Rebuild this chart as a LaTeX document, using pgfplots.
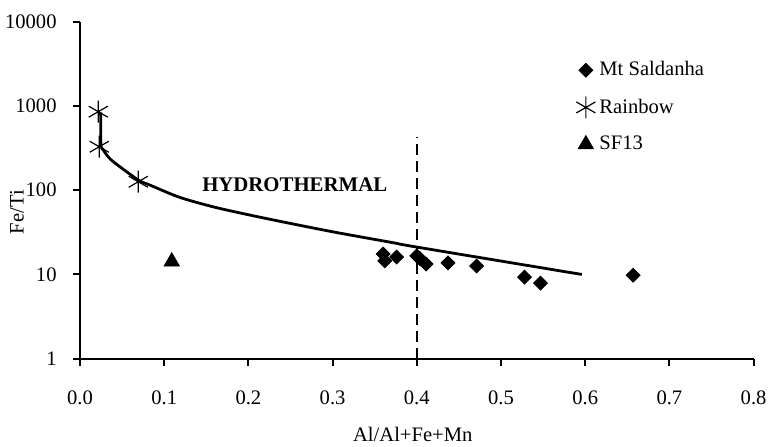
\documentclass[border=0pt]{standalone}
\usepackage{fontspec}
\setmainfont{Liberation Serif}
\usepackage{pgfplots}
\pgfplotsset{compat=1.18}
\newcommand{\ff}{\fontsize{10.3}{12}\selectfont}
\begin{document}
\begin{tikzpicture}
\useasboundingbox (-40pt,-43.65pt) rectangle (344.5pt,179.35pt);
\begin{axis}[
  at={(0,0)}, anchor=south west,
  scale only axis, width=336.8pt, height=168.5pt,
  ymode=log, xmin=0, xmax=0.8, ymin=1, ymax=10000,
  axis lines*=left,
  axis line style={line width=1pt,-},
  xtick={0,0.1,...,0.8}, ytick={1,10,100,1000,10000},
  yticklabels={1,10,100,1000,10000},
  minor ytick={}, yminorticks=false,
  tick align=outside, major tick length=3.5pt,
  every tick/.style={black, line width=1pt},
  x tick label style={font=\ff, /pgf/number format/fixed, /pgf/number format/fixed zerofill, /pgf/number format/precision=1, anchor=base, yshift=-19.5pt},
  y tick label style={font=\ff, anchor=east, inner sep=0pt, xshift=-8pt},
  /pgf/number format/assume math mode=true,
  font=\ff,
  xlabel={Al/Al+Fe+Mn}, ylabel={Fe/Ti},
  every axis x label/.style={at={(axis description cs:0.494,0)}, yshift=-41.5pt, anchor=base, inner sep=0pt, font=\ff},
  every axis y label/.style={at={(axis description cs:0,0.435)}, xshift=-31.5pt, rotate=90, anchor=center, font=\ff},
  legend style={draw=none, fill=none, inner sep=0pt, at={(axis cs:0.589,3800)}, anchor=north west, row sep=6pt, font=\ff},
  legend cell align=left,
  legend image code/.code={\draw[#1] plot coordinates {(0pt,0pt)};},
  clip=false,
]
\addplot[black, line width=1.4pt, smooth, tension=0.45, forget plot] coordinates {
(0.0245,840) (0.0247,500) (0.0250,330) (0.0277,300) (0.0317,262) (0.0395,218) (0.0692,132) (0.0831,115) (0.1188,82) (0.1624,62) (0.2218,46) (0.3008,32) (0.372,23.8) (0.398,21.3) (0.596,10.0)};
\addplot[black, line width=1.2pt, dash pattern=on 5.5pt off 3pt, forget plot] coordinates {(0.4,1) (0.4,425)};
\addplot[only marks, mark=square*, mark size=2.45pt, mark options={rotate=45}, black] coordinates {
(0.360,17.5) (0.362,14.5) (0.376,16.1) (0.400,16.6) (0.404,15.3) (0.411,13.3) (0.437,13.7) (0.471,12.6) (0.528,9.3) (0.547,7.9) (0.657,9.8)};
\addlegendentry{Mt Saldanha}
\addplot[only marks, mark=asterisk, mark size=5.5pt, black, line width=0.6pt] coordinates {
(0.0217,855) (0.0229,328) (0.0692,126)};
\addlegendentry{Rainbow}
\addplot[only marks, mark=triangle*, mark size=4.4pt, black] coordinates {(0.109,14.2)};
\addlegendentry{SF13}
\node[font=\fontsize{10.4}{12}\selectfont\bfseries] at (axis cs:0.255,115) {HYDROTHERMAL};
\end{axis}
\end{tikzpicture}
\end{document}
